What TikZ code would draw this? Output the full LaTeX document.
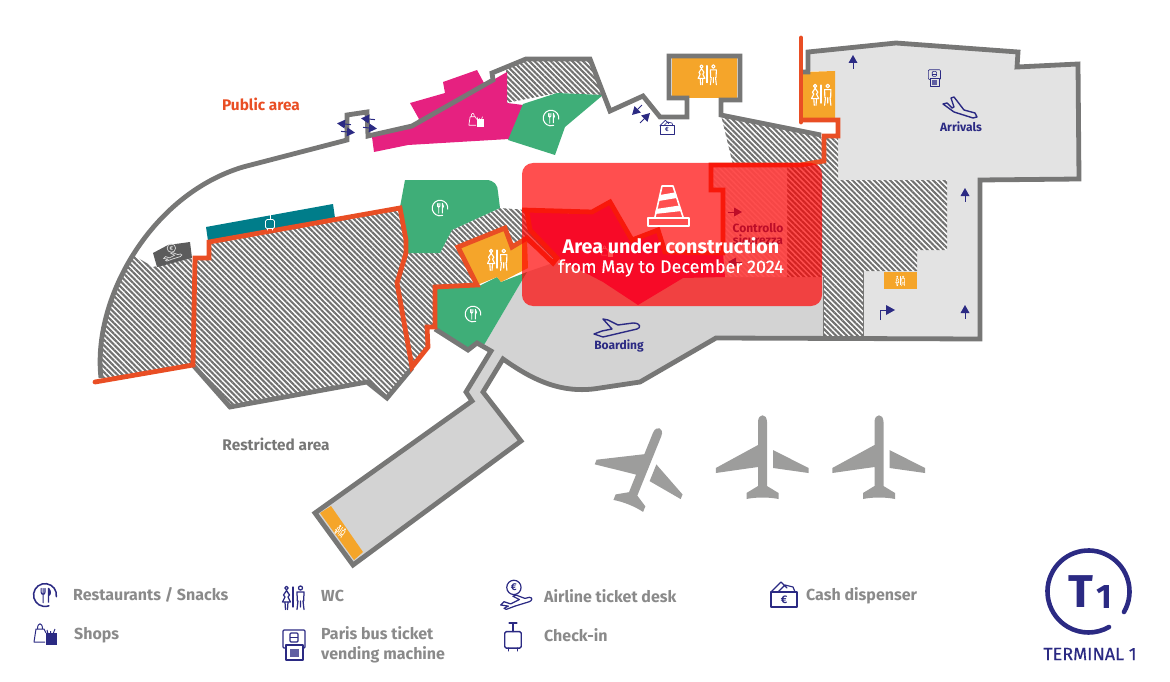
\documentclass[tikz,border=0pt]{standalone}
\usepackage{fontspec}
\setmainfont{Fira Sans}
\usetikzlibrary{patterns.meta}
\definecolor{wallc}{HTML}{777776}
\definecolor{orl}{HTML}{E94E24}
\definecolor{navy}{HTML}{2B2A83}
\definecolor{gr1}{HTML}{D3D3D3}
\definecolor{gr2}{HTML}{E3E3E3}
\definecolor{grn}{HTML}{3FAE78}
\definecolor{mag}{HTML}{E62180}
\definecolor{wcc}{HTML}{F5A52A}
\definecolor{tealc}{HTML}{007D8A}
\definecolor{kiosk}{HTML}{5C5C5C}
\definecolor{legt}{HTML}{8A8A8A}
\definecolor{planec}{HTML}{9D9D9C}
\tikzset{
  hatch/.style={preaction={fill=white},pattern={Lines[angle=-45,distance=3.8pt,line width=2.1pt]},pattern color=#1},
  hatch/.default={wallc!95!black},
  wall/.style={draw=wallc,line width=4.8pt,miter limit=6},
  orangeline/.style={draw=orl,line width=4.8pt,miter limit=6},
  navytext/.style={text=navy,font=\bfseries\fontsize{12}{13}\selectfont,inner sep=0pt},
  legendtext/.style={text=legt,font=\bfseries\fontsize{16}{19.5}\selectfont,inner sep=0pt,anchor=west,align=left},
}
% x y scale colour
\newcommand{\icoRest}[4]{\begin{scope}[shift={(#1,#2)},scale=#3,draw=#4,line width=#3*1.4pt,line cap=round,fill=none]
 \draw (10.3,1.5) arc[start angle=8,end angle=-290,radius=10.4];
 \draw[line width=#3*1pt] (-3.5,-6)--(-3.5,-2.5) .. controls (-3.5,0) and (0,0) .. (0,-2.5) --(0,-6) (-1.75,-6)--(-1.75,7);
 \fill[#4] (2.5,7) rectangle (3.7,-6.5) .. controls (6,-4) and (6,0) .. (3.7,1) -- cycle;
\end{scope}}
\newcommand{\icoWC}[4]{\begin{scope}[shift={(#1,#2)},scale=#3,draw=#4,line width=#3*1.25pt,line cap=round,line join=round]
 \draw (-6.5,-10) circle[radius=1.8];
 \draw (-6.5,-7.5) -- (-9.5,-3) -- (-8,-1) -- (-10.5,4) -- (-2.5,4) -- (-5,-1) -- (-3.5,-3) -- cycle;
 \draw (-8,4)--(-7.5,11.5) (-5,4)--(-5.5,11.5);
 \draw (0,-11)--(0,9);
 \draw (7.5,-10) circle[radius=2];
 \draw (4,11.5)--(5,3)--(4.3,3)--(4,-6)--(11,-6)--(10.7,3)--(10,3)--(11,11.5) (7.5,3)--(7.5,9);
\end{scope}}
\newcommand{\icoShop}[4]{\begin{scope}[shift={(#1,#2)},scale=#3,draw=#4,line width=#3*1pt,line join=round]
 \draw (1,-1)--(-1,-5)--(-9,-5)--(-11,8)--(0,8);
 \draw (-7.5,-5) .. controls (-7.5,-12) and (-2.5,-12) .. (-2.5,-5);
 \fill[#4] (1,-1) rectangle (12,11);
 \draw (3,0)--(2,-4) (8,0)--(10,-5) (5.5,0)--(5.5,-3);
\end{scope}}
\newcommand{\icoBag}[4]{\begin{scope}[shift={(#1,#2)},scale=#3,draw=#4,line width=#3*1.3pt,line join=round,line cap=round]
 \draw[rounded corners=1.5pt] (-7.5,-4) rectangle (7.5,11);
 \draw (0,-4)--(0,-12) (-3.5,-12)--(3.5,-12);
 \draw (-4,11)--(-4,13.5) (4,11)--(4,13.5);
\end{scope}}
\newcommand{\icoBus}[4]{\begin{scope}[shift={(#1,#2)},scale=#3,draw=#4,line width=#3*1.2pt,line join=round]
 \draw[rounded corners=1pt] (-9,3)--(-12,3)--(-12,-15)--(10,-15)--(10,3)--(8,3);
 \draw (-9,0) rectangle (8,15);
 \fill[#4!75] (-5,4) rectangle (4,12);
 \draw[rounded corners=1pt] (-5,-12) rectangle (3,-3);
 \draw (-5,-7.5)--(3,-7.5);
\end{scope}}
\newcommand{\icoDesk}[4]{\begin{scope}[shift={(#1,#2)},scale=#3,draw=#4,line width=#3*1.1pt,line join=round,line cap=round]
 \draw (-1,-6) circle[radius=6.5];
 \node[inner sep=0pt,text=#4,font=\bfseries\fontsize{9}{9}\selectfont,scale=#3] (deskeuro#1) at (-1,-6) {€};
 \draw (-13,10)--(-10,7)--(-4,9)--(4,5)--(-2,2)--(1,1)--(9,4)--(13,3) .. controls (16,3) and (16,6) .. (13,7)--(0,11)--(-8,14)--(-10,13)--(-6,11)--cycle;
\end{scope}}
\newcommand{\icoCash}[4]{\begin{scope}[shift={(#1,#2)},scale=#3,draw=#4,line width=#3*1.2pt,line join=round,line cap=round]
 \draw (-13,11)--(13,11)--(13,-4)--(-13,-4)--cycle;
 \draw (-13,-4)--(-3,-14)--(3,-8) (-6,-4)--(1,-11)--(9,-9)--(11,-4);
 \node[inner sep=0pt,text=#4,font=\bfseries\fontsize{11}{11}\selectfont,scale=#3] (casheuro#1) at (0,3.5) {€};
\end{scope}}
% arrow: x y rotation colour
\newcommand{\icoArrow}[4]{\begin{scope}[shift={(#1,#2)},rotate=#3]
 \fill[#4] (0,-7)--(4.5,1)--(-4.5,1)--cycle;
 \draw[#4,line width=1pt] (0,0)--(0,7);
\end{scope}}
\tikzset{
 planeshape/.pic={
  \fill[planec] (-4.5,-35) .. controls (-4.5,-44) and (4.5,-44) .. (4.5,-35) -- (4.5,29) -- (16,36) -- (16,42) .. controls (6,40) and (-6,40) .. (-16,42) -- (-16,36) -- (-4.5,29) -- (-4.5,10) -- (-46.7,16) -- (-46.7,11) -- (-4.5,-12) -- cycle;
  \fill[planec] (10.5,-7) -- (46,11) -- (46,16) -- (10.5,11) -- cycle;
 }
}
\begin{document}
\begin{tikzpicture}[x=1pt,y=-1pt]
\useasboundingbox (0,0) rectangle (1170,682);
% floors
\fill[gr2] (808,52)--(896,43)--(1018,52)--(1017,67)--(1078,64)--(1079,179)--(980,180)--(980,339)--(863,337)--(863,271)--(917,271)--(917,250)--(947,250)--(947,180)--(838,180)--(838,120)--(835,118)--(835,71)--(808,71)--cycle;
\fill[gr1] (527,272)--(484,345)--(491,351)--(466,392)--(472,401)--(315,513)--(353,565)--(521,441)--(483,392)--(503,359) .. controls (530,378) and (560,395) .. (600,388) -- (640,382) -- (716,338)--(823,338)--(823,277)--(723,277)--(553,263)--cycle;
% hatched zones
\begin{scope}
 \clip (85,390)--(85,240)--(130,240)--(130,253)--(153,267)--(192,258)--(193,365)--(97,381)--cycle;
 \path[hatch] (101,378) .. controls (92,300) and (150,195) .. (243,167) -- (243,392) -- (101,392) -- cycle;
\end{scope}
\path[hatch] (195,258)--(209,258)--(209,242)--(400,208)--(406,240)--(406,253)--(397,283)--(412,367)--(387,398)--(367,382)--(230,407)--(193,365)--cycle;
\path[hatch] (406,253)--(440,253)--(452,230)--(500,208)--(527,210)--(530,230)--(557,258)--(553,263)--(527,242)--(512,247)--(477,287)--(435,287)--(435,327)--(427,327)--(428,347)--(412,367)--(397,283)--cycle;
\path[hatch] (506,70)--(526,59)--(590,59)--(602,95)--(557,93)--(506,103)--cycle;
\path[hatch] (721,115)--(821,135)--(824,160)--(810,165)--(733,165)--cycle;
\path[hatch] (824,137)--(838,137)--(838,180)--(947,180)--(947,250)--(917,250)--(917,271)--(863,271)--(863,337)--(823,337)--(823,277)--(787,277)--(787,166)--(824,162)--cycle;
\path[hatch={wallc!20!white}] (710,165)--(787,165)--(787,277)--(725,277)--(725,192)--(710,192)--cycle;
% coloured zones
\fill[tealc] (206,227)--(333,204)--(335,218)--(208,241)--cycle;
\fill[kiosk] (153,253)--(168,245)--(190,242)--(192,258)--(157,267)--cycle;
\fill[mag] (410,103)--(445,93)--(443,82)--(477,70)--(484,83)--(493,80)--(507,72)--(507,103)--(523,105)--(509,139)--(408,145)--(374,152)--(372,137)--(412,127)--(419,119)--cycle;
\fill[mag] (527,212)--(592,214)--(610,204)--(632,240)--(658,230)--(665,253)--(723,253)--(725,277)--(683,278)--(638,305)--(603,282)--(557,258)--(530,230)--cycle;
\fill[grn] (405,180)--(486,180) .. controls (494,180) and (498,185) .. (498,192) -- (500,208)--(452,230)--(440,253)--(408,253)--(406,240)--(400,207)--cycle;
\fill[grn] (523,104)--(557,93)--(603,95)--(565,127)--(555,155)--(508,140)--cycle;
\fill[grn] (435,287)--(477,287)--(497,277)--(501,282)--(527,272)--(484,345)--(477,343)--(468,350)--(435,329)--cycle;
\fill[wcc] (458,247)--(505,228)--(512,247)--(527,240)--(528,268)--(501,282)--(497,277)--(477,285)--cycle;
\fill[wcc] (672,57)--(737,57)--(737,98)--(720,98)--(690,98)--(672,98)--cycle;
\fill[wcc] (803,72)--(835,71)--(835,118)--(803,118)--cycle;
\fill[wcc] (884,272)--(917,272)--(917,289)--(884,289)--cycle;
\fill[wcc] (320,513)--(331,506)--(363,552)--(354,560)--cycle;
% walls
\draw[wall] (101,378) .. controls (92,300) and (150,195) .. (243,167) -- (347,140) -- (347,115) -- (367,112) -- (368,136) -- (412,126) -- (493,80) -- (492,73) -- (526,59) -- (590,59) -- (610,111) -- (643,96) -- (660,117) -- (687,117) -- (687,98) -- (669,98) -- (669,56) -- (740,56) -- (740,100) -- (721,100) -- (721,115) -- (821,135);
\draw[wall] (193,365)--(230,407)--(367,382)--(387,398)--(412,368);
\draw[wall] (435,329)--(468,350)--(477,343)--(491,351)--(466,392)--(472,401)--(315,513)--(353,565)--(521,441)--(483,392)--(503,359) .. controls (530,378) and (560,395) .. (600,388) -- (640,382) -- (716,338)--(980,339)--(980,180)--(1079,179)--(1078,64)--(1017,67)--(1018,52)--(896,43)--(808,52)--(808,72)--(803,72);
\draw[wallc,line width=1pt] (823,277)--(823,338) (863,271)--(863,338);
% orange lines
\draw[orangeline,line cap=round] (95,382)--(193,365)--(195,258)--(209,258)--(209,242)--(400,208)--(406,240)--(406,253)--(397,283)--(412,367)--(428,347)--(427,327)--(435,327)--(435,287)--(477,285)--(458,247)--(505,228)--(512,247)--(527,238)--(553,263)--(557,258)--(530,230)--(527,212);
\draw[orangeline] (522,210)--(592,212)--(610,202)--(632,240)--(658,230)--(665,252)--(723,253)--(723,190)--(711,190)--(711,165)--(800,165)--(824,161)--(824,136)--(838,136)--(838,120)--(801,120);
\draw[orangeline,line cap=round] (801,122)--(801,38);
% planes
\pic at (762.5,457) {planeshape};
\pic at (879,457) {planeshape};
\pic[rotate=-22] at (644,467) {planeshape};
% icons on map
\icoRest{440}{208}{0.75}{white}
\icoRest{551}{118}{0.75}{white}
\icoRest{473}{314}{0.75}{white}
\icoShop{476}{120}{0.65}{white}
\icoShop{607}{251}{0.5}{white}
\icoWC{497}{260}{0.9}{white}
\icoWC{707}{75}{0.85}{white}
\icoWC{821}{95}{0.9}{white}
\icoWC{900}{281}{0.42}{white}
\begin{scope}[rotate around={-36:(340,531)}]\icoWC{340}{531}{0.42}{white}\end{scope}
\icoBag{270}{222}{0.6}{white}
\icoDesk{172}{252}{0.65}{white!85!black}
\icoCash{667}{128}{0.55}{navy}
\icoBus{935}{78}{0.55}{navy}
\icoArrow{853}{62}{0}{navy}
\icoArrow{965}{195}{0}{navy}
\icoArrow{965}{312}{0}{navy}
\fill[navy] (895,310)--(886,305)--(886,315)--cycle;
\draw[navy,line width=1pt] (880,320)--(880,310)--(888,310);
\icoArrow{735}{212}{-90}{navy}
\icoArrow{735}{262}{90}{navy}
% double doors
\icoArrow{344}{124}{85}{navy}
\icoArrow{348}{132}{-95}{navy}
\icoArrow{368}{119}{85}{navy}
\icoArrow{370}{128}{-95}{navy}
\icoArrow{637}{110}{135}{navy}
\icoArrow{645}{118}{-45}{navy}
% boarding and arrivals plane icons
\draw[navy,line width=1.4pt,line join=round] (603,319)--(608,320)--(618,325)--(633,323) .. controls (641,323) and (641,328) .. (637,329)--(603,337)--(594,334)--(602,331)--(612,329)--cycle;
\draw[navy,line width=1.4pt,line join=round] (943,104)--(947,103)--(952,108)--(954,107)--(951,98)--(954,97)--(964,110)--(975,113)--(977,117)--(973,118)--(954,112)--cycle;
% labels
\node[text=orl,font=\bfseries\fontsize{15.4}{16}\selectfont,inner sep=0pt] (pub) at (261,104) {Public area};
\node[text=wallc,font=\bfseries\fontsize{15.4}{16}\selectfont,inner sep=0pt] (res) at (276,444) {Restricted area};
\node[navytext] (boarding) at (619,346) {Boarding};
\node[navytext] (arrivals) at (961,127) {Arrivals};
\node[navytext] (contr) at (758,228) {Controllo};
\node[navytext] (sicur) at (758,240) {sicurezza};
% construction overlay
\fill[red,opacity=0.69,rounded corners=11pt] (522,163) rectangle (822,306);
\begin{scope}[line join=round]
 \draw[white,line width=1.6pt] (648,218) rectangle (689,226);
 \draw[white,line width=1.6pt] (655,217)--(662,186)--(673,186)--(683,217);
 \fill[white] (660,195)--(674.5,192.5)--(676.5,198)--(658.5,201)--cycle;
 \fill[white] (656,209)--(679.5,205.5)--(681.5,211)--(655,214)--cycle;
\end{scope}
\node[text=white,font=\bfseries\fontsize{19.7}{20}\selectfont,inner sep=0pt] (area1) at (671,246) {Area under construction};
\node[text=white,font=\fontsize{18}{19}\selectfont\addfontfeatures{FakeBold=0.3},inner sep=0pt] (area2) at (671,268) {from May to December 2024};
% legend
\icoRest{45}{595}{1.1}{navy}
\icoShop{45}{634}{1}{navy}
\icoWC{293}{598}{1}{navy}
\icoBus{295}{645}{1}{navy}
\icoDesk{515}{594}{1.1}{navy}
\icoBag{513}{636}{1.1}{navy}
\icoCash{784}{596}{1}{navy}
\node[legendtext] (l1) at (73,595) {Restaurants / Snacks};
\node[legendtext] (l2) at (74,635) {Shops};
\node[legendtext] (l3) at (321,596) {WC};
\node[legendtext] (l4) at (321,645) {Paris bus ticket\\vending machine};
\node[legendtext] (l5) at (544,596) {Airline ticket desk};
\node[legendtext] (l6) at (544,635) {Check-in};
\node[legendtext] (l7) at (806,596) {Cash dispenser};
% logo
\draw[navy,line width=4.6pt,line cap=round] (1124,612) arc[start angle=30,end angle=-300,radius=41];
\node[text=navy,font=\bfseries\fontsize{46}{46}\selectfont,inner sep=0pt] (tlogo) at (1081,592) {T};
\node[text=navy,font=\bfseries\fontsize{34}{34}\selectfont,inner sep=0pt] (onelogo) at (1104,597) {1};
\node[text=navy,font=\fontsize{18}{19}\selectfont\addfontfeatures{FakeBold=0.3},inner sep=0pt] (term) at (1090,654) {TERMINAL 1};
\end{tikzpicture}
\end{document}
